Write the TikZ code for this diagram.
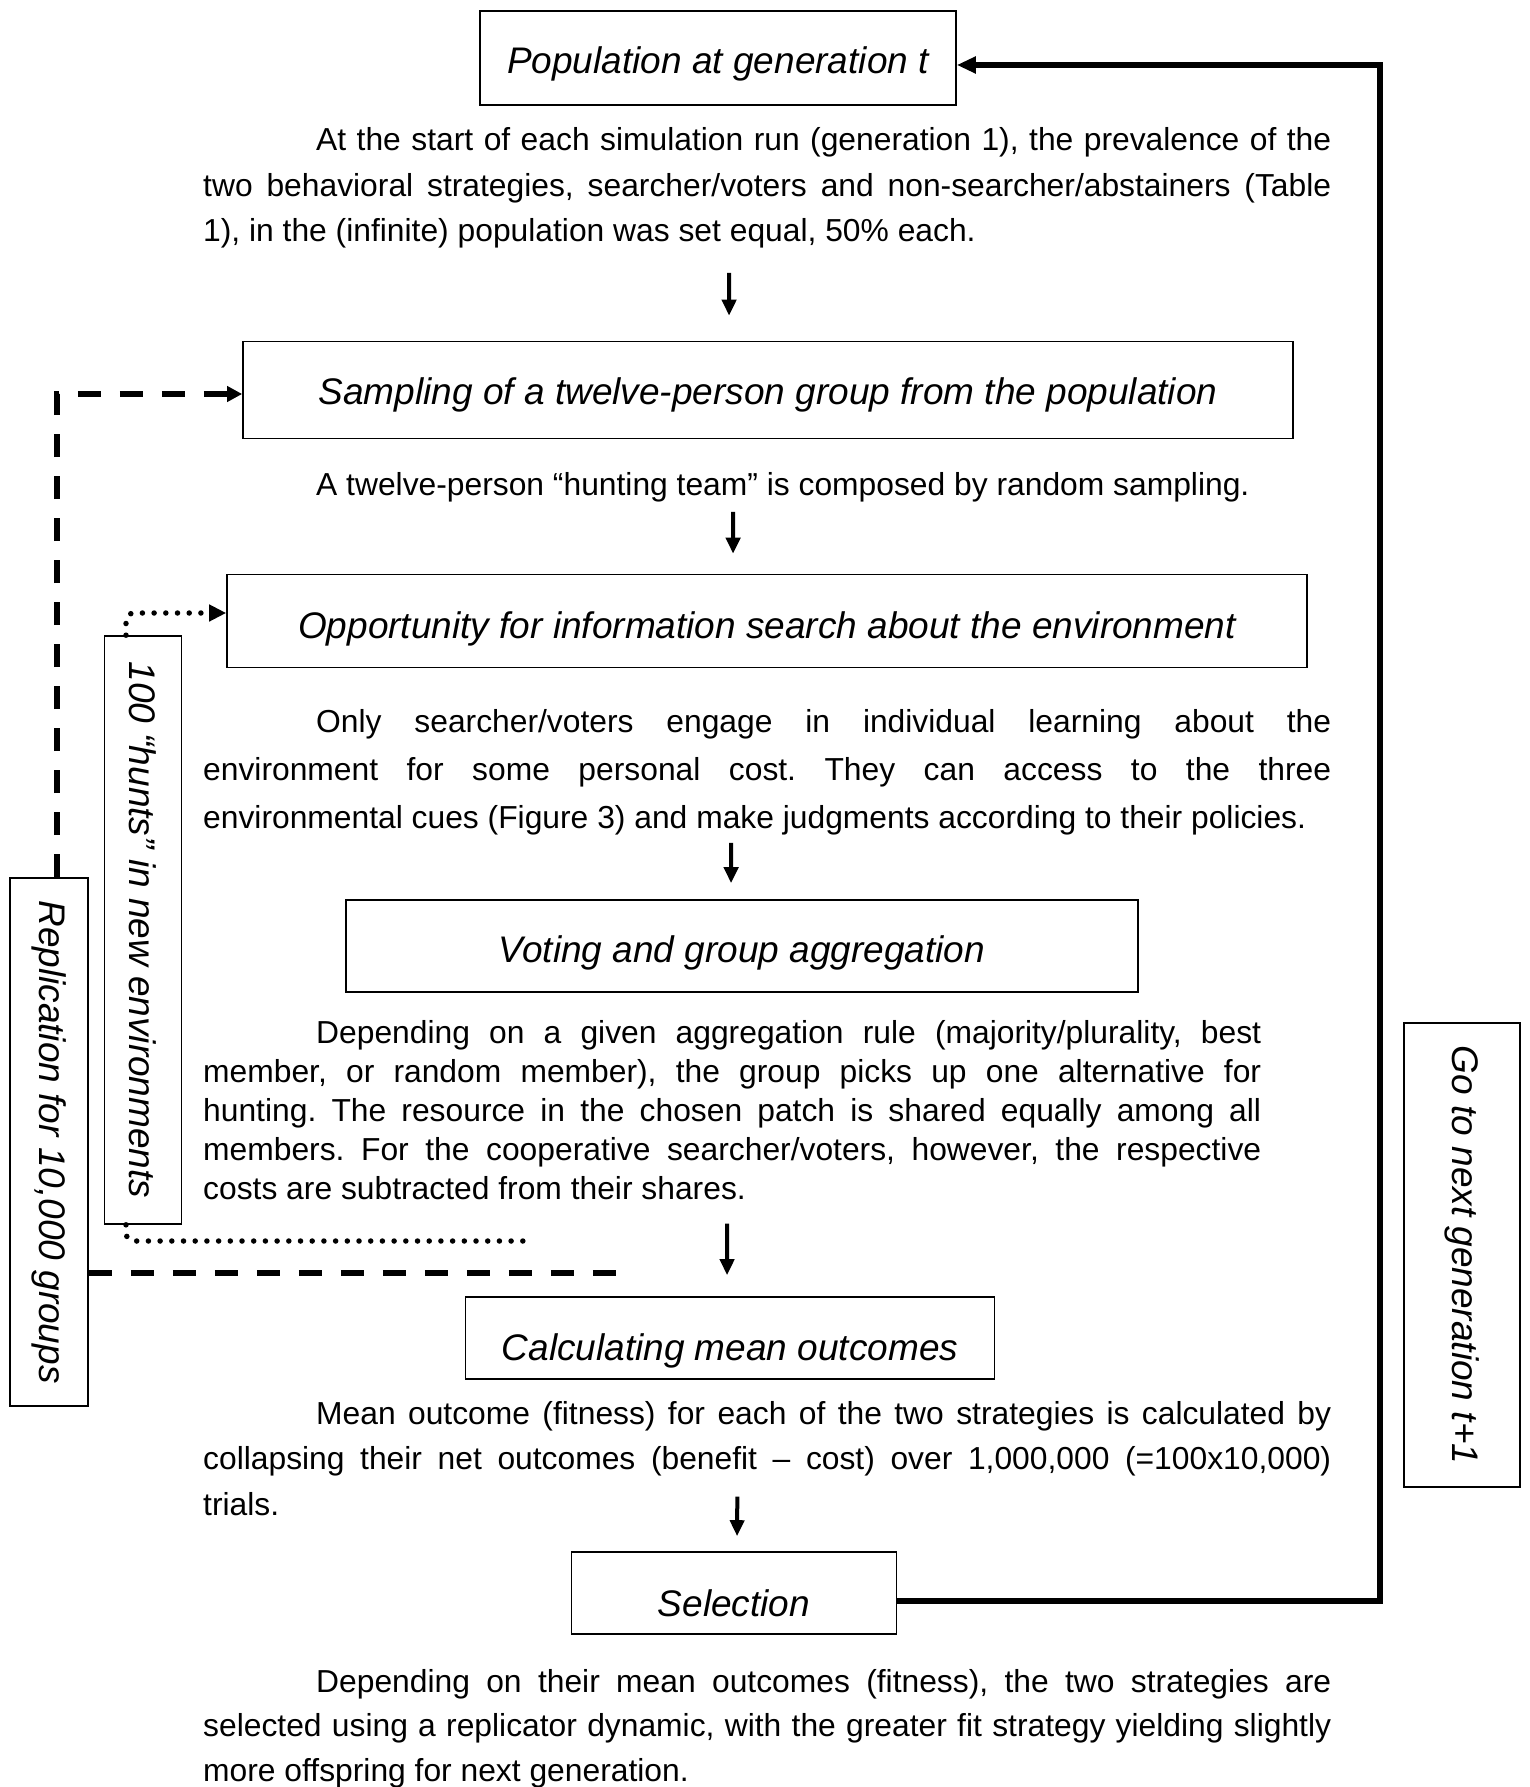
\documentclass[tikz,border=0pt]{standalone}
\usepackage{fontspec}
\setmainfont{Liberation Sans}
\usetikzlibrary{arrows.meta,positioning,calc}
\newcommand{\stagefont}{\fontsize{37}{44}\selectfont\itshape}
\newcommand{\bodyfont}[1]{\fontsize{31.8}{#1}\selectfont\frenchspacing\hyphenpenalty=10000 \exhyphenpenalty=10000 \tolerance=10000 }
\tikzset{
  stagebox/.style={draw,line width=1.6pt,inner sep=0pt,align=center,text depth=0pt,font=\stagefont},
  sidebox/.style={draw,line width=1.6pt,inner sep=0pt,align=center,font=\stagefont,rotate=-90},
  para/.style={inner sep=0pt,anchor=base west,text width=1128pt,align=justify,font=\bodyfont{45.5}},
  flow/.style={-{Triangle[length=16pt,width=14pt]},line width=4pt},
  loop/.style={-{Triangle[length=19pt,width=16pt]},line width=5.5pt},
  repline/.style={line width=6pt,dash pattern=on 23pt off 19pt},
  huntline/.style={line width=5.5pt,line cap=round,dash pattern=on 0pt off 11.7pt},
}
\begin{document}
\begin{tikzpicture}[x=1pt,y=-1pt]
\path[use as bounding box,fill=white] (0,0) rectangle (1529,1787);
% stages and their descriptions
\node[stagebox,text height=31pt,minimum width=476pt,minimum height=94pt] (pop) at (718,58) {Population at generation t};
\node[para] (p1) at (203,151) {\hspace*{113pt}At the start of each simulation run (generation 1), the prevalence of the \linebreak two behavioral strategies, searcher/voters and non-searcher/abstainers (Table \linebreak 1), in the (infinite) population was set equal, 50\% each.};
\node[stagebox,text height=29pt,minimum width=1050pt,minimum height=97pt] (sample) at (768,390) {Sampling of a twelve-person group from the population};
\node[para] (p2) at (203,495) {\hspace*{113pt}A twelve-person “hunting team” is composed by random sampling.};
\node[stagebox,text height=35pt,minimum width=1080pt,minimum height=93pt] (search) at (767,621) {Opportunity for information search about the environment};
\node[para,font=\bodyfont{48}] (p3) at (203,732) {\hspace*{113pt}Only searcher/voters engage in individual learning about the \linebreak environment for some personal cost. They can access to the three \linebreak environmental cues (Figure 3) and make judgments according to their policies.};
\node[stagebox,text height=32pt,minimum width=792pt,minimum height=92pt] (vote) at (742,946) {Voting and group aggregation};
\node[para,text width=1058pt,font=\bodyfont{39}] (p4) at (203,1043) {\hspace*{113pt}Depending on a given aggregation rule (majority/plurality, best \linebreak member, or random member), the group picks up one alternative for \linebreak hunting. The resource in the chosen patch is shared equally among all \linebreak members. For the cooperative searcher/voters, however, the respective \linebreak costs are subtracted from their shares.};
\node[stagebox,text height=44pt,minimum width=529pt,minimum height=82pt] (mean) at (730,1338) {Calculating mean outcomes};
\node[para] (p5) at (203,1424) {\hspace*{113pt}Mean outcome (fitness) for each of the two strategies is calculated by \linebreak collapsing their net outcomes (benefit – cost) over 1,000,000 (=100x10,000) \linebreak trials.};
\node[stagebox,text height=46pt,minimum width=325pt,minimum height=82pt] (select) at (734,1593) {Selection};
\node[para,font=\bodyfont{44.5}] (p6) at (203,1692) {\hspace*{113pt}Depending on their mean outcomes (fitness), the two strategies are \linebreak selected using a replicator dynamic, with the greater fit strategy yielding slightly \linebreak more offspring for next generation.};
% loops
\node[sidebox,minimum width=528pt,minimum height=78pt] (rep) at (49,1142) {Replication for 10,000 groups};
\node[sidebox,minimum width=588pt,minimum height=77pt] (hunts) at (143,930) {100 “hunts” in new environments};
\node[sidebox,minimum width=464pt,minimum height=116pt] (nextgen) at (1462,1255) {Go to next generation t+1};
\coordinate (repend) at (621,1273);
\coordinate (huntend) at (526,1241);
\coordinate (loopc) at (1380,65);
% main flow
\draw[flow,shorten <=24pt,shorten >=25pt] ([xshift=-38pt]p1.south) -- ([xshift=-39pt]sample.north);
\draw[flow,shorten <=10pt,shorten >=20pt] ([xshift=-34pt]p2.south) -- ([xshift=-34pt]search.north);
\draw[flow,shorten <=8pt,shorten >=16pt] ([xshift=-36pt]p3.south) -- ([xshift=-11pt]vote.north);
\draw[flow,shorten <=24pt,shorten >=21pt] ([xshift=-5pt]p4.south) -- ([xshift=-3pt]mean.north);
\draw[flow,shorten <=-19pt,shorten >=15pt] ([xshift=-30pt]p5.south) -- ([xshift=3pt]select.north);
\draw[loop] ([yshift=-8pt]select.east) -| (loopc) -- (pop.east |- loopc);
% replication loops
\draw[repline,-{Triangle[length=15pt,width=15pt]}] ([xshift=8pt]rep.west) |- ([yshift=-4pt]sample.west);
\draw[repline] (repend -| rep.north) -- (repend);
\draw[huntline,rounded corners=8pt,-{Triangle[length=17pt,width=16pt]}] ([xshift=-17pt]hunts.west) |- ([yshift=8pt]search.west);
\draw[huntline,rounded corners=8pt] ([xshift=-17pt]hunts.east) |- (huntend);
\end{tikzpicture}
\end{document}
